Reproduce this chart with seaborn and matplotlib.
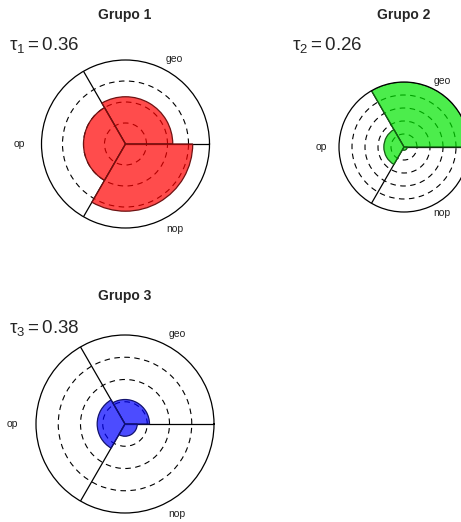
import numpy as np
import matplotlib
matplotlib.use("Agg")
import matplotlib.pyplot as plt
from matplotlib.colors import to_rgba
import seaborn as sns

# sectors of every rose, counter-clockwise from east
categories = ["geo", "op", "nop"]
groups = ["Grupo 1", "Grupo 2", "Grupo 3"]
taus = ["0.36", "0.26", "0.38"]

grupo1 = [2.25, 2.0, 3.2]
grupo2 = [5.0, 1.55, 0.25]
grupo3 = [1.1, 1.25, 0.55]

# outer circle of each rose (dashed rings at every unit below it)
rmax = [4, 5, 4]

colors = ["#ff0000", "#00e600", "#0000ff"]
edges = ["#6e1212", "#145a14", "#12126e"]

sns.set_style("white")
plt.rcParams["font.family"] = ["Liberation Sans", "DejaVu Sans"]
plt.rcParams["mathtext.fontset"] = "custom"
plt.rcParams["mathtext.rm"] = "Liberation Sans"
plt.rcParams["mathtext.it"] = "Liberation Sans:italic"

fig = plt.figure(figsize=(4.61, 5.22), dpi=100)
fig.set_facecolor("white")

W, H = 461.0, 522.0
labelR = [1.17, 1.27, 1.17]


def drawRose(center, radius, values, top, color, edge):
    cx, cy = center
    rect = [(cx - radius) / W, (H - cy - radius) / H, 2 * radius / W, 2 * radius / H]
    ax = fig.add_axes(rect, projection="polar")

    theta = np.deg2rad(np.arange(len(categories)) * 120 + 60)
    ax.bar(theta, values, width=np.deg2rad(120), align="center",
           facecolor=to_rgba(color, 0.7), edgecolor=edge, linewidth=0.9,
           zorder=2)

    ax.set_ylim(0, top)
    ax.set_yticks(np.arange(1, top))
    ax.set_yticklabels([])
    ax.set_xticks(np.deg2rad([0, 120, 240]))
    ax.set_xticklabels([])
    ax.tick_params(length=0)
    ax.xaxis.grid(True, color="black", linestyle="-", linewidth=0.9)
    ax.yaxis.grid(True, color="black", linestyle=(0, (5, 4)), linewidth=0.8)
    ax.spines["polar"].set_color("black")
    ax.spines["polar"].set_linewidth(0.9)
    ax.set_facecolor("none")

    for th, lab, f in zip(theta, categories, labelR):
        ax.text(th, top * f, lab, ha="center", va="center",
                fontsize=7.5, color="#222222", clip_on=False)
    return ax


drawRose((125.5, 144), 84, grupo1, rmax[0], colors[0], edges[0])
drawRose((404, 147), 65, grupo2, rmax[1], colors[1], edges[1])
drawRose((125, 424), 89, grupo3, rmax[2], colors[2], edges[2])

titles = [(125, 15), (404, 15), (125, 296)]
tauPos = [(9, 45), (292, 45), (9, 328)]

for i, name in enumerate(groups):
    tx, ty = titles[i]
    fig.text(tx / W, 1 - ty / H, name, ha="center", va="center",
             fontsize=10, fontweight="bold")
    px, py = tauPos[i]
    fig.text(px / W, 1 - py / H,
             r"$\mathrm{\tau_%d = %s}$" % (i + 1, taus[i]),
             ha="left", va="center", fontsize=13.5)

plt.savefig("out.png", dpi=100)
